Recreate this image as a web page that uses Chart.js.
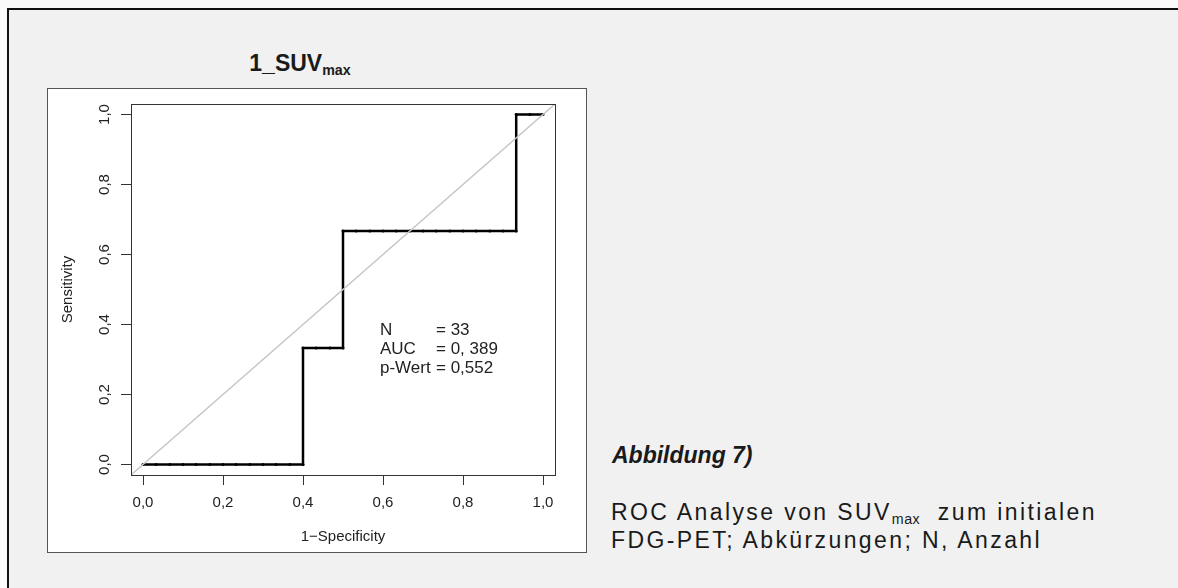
<!DOCTYPE html>
<html>
<head>
<meta charset="utf-8">
<script src="https://cdn.jsdelivr.net/npm/chart.js@4.4.1/dist/chart.umd.min.js"></script>
<style>
    html, body { margin: 0; padding: 0; width: 1178px; height: 588px; overflow: hidden; background: #fafafa; }
    body { position: relative; font-family: 'Liberation Sans', Arial, sans-serif; color: #1a1a1a; }
    #frame { position: absolute; left: 7px; top: 8px; width: 1200px; height: 600px; background: #f1f1f1; border-left: 2px solid #111; border-top: 2px solid #111; }
    #plot-title { position: absolute; left: 200px; width: 200px; top: 50px; text-align: center; font-weight: bold; font-size: 23px; white-space: nowrap; }
    #plot-title sub, #caption sub { font-size: 0.62em; vertical-align: -0.25em; line-height: 0; }
    #plot-box { position: absolute; left: 47px; top: 88px; width: 538px; height: 463px; background: #fff; border: 1px solid #555; }
    #plot-box canvas { position: absolute; left: 0; top: 0; }
    .note { position: absolute; font-size: 17px; line-height: 19px; white-space: nowrap; color: #222; }
    #caption-head { position: absolute; left: 612px; top: 442px; font-size: 23px; font-weight: bold; font-style: italic; white-space: nowrap; }
    #caption { position: absolute; left: 611px; top: 498px; font-size: 23px; line-height: 28px; letter-spacing: 2.4px; white-space: nowrap; }
    #caption sub { letter-spacing: 0.5px; }
</style>
</head>
<body>
<div id="frame"></div>
<div id="plot-title">1_SUV<sub>max</sub></div>
<div id="plot-box"><canvas id="roc" width="538" height="463"></canvas></div>
<div class="note" style="left:380px; top:320px;">N<br>AUC<br>p-Wert</div>
<div class="note" style="left:436px; top:320px;">= 33<br>= 0, 389<br>= 0,552</div>
<div id="caption-head">Abbildung 7)</div>
<div id="caption">ROC Analyse von SUV<sub>max</sub>&nbsp; zum initialen<br>FDG-PET; Abkürzungen; N, Anzahl</div>

<script>
// ROC points: 30 negatives, 3 positives
const falsePosRate = [0, 0.033, 0.067, 0.1, 0.133, 0.167, 0.2, 0.233, 0.267, 0.3, 0.333, 0.367, 0.4,
    0.4, 0.433, 0.467, 0.5,
    0.5, 0.533, 0.567, 0.6, 0.633, 0.667, 0.7, 0.733, 0.767, 0.8, 0.833, 0.867, 0.9, 0.933,
    0.933, 0.967, 1.0];
const truePosRate = [0, 0, 0, 0, 0, 0, 0, 0, 0, 0, 0, 0, 0,
    0.333, 0.333, 0.333, 0.333,
    0.667, 0.667, 0.667, 0.667, 0.667, 0.667, 0.667, 0.667, 0.667, 0.667, 0.667, 0.667, 0.667, 0.667,
    1.0, 1.0, 1.0];
const chanceLine = [-0.05, 1.05];

const tickValues = [0, 0.2, 0.4, 0.6, 0.8, 1.0];
const tickLabels = ['0,0', '0,2', '0,4', '0,6', '0,8', '1,0'];

const axisFont = { family: "'Liberation Sans', Arial, sans-serif", size: 15 };

const boxPlugin = {
    id: 'box',
    afterDraw(chart) {
        const { ctx, chartArea: a } = chart;
        ctx.save();
        ctx.strokeStyle = '#333';
        ctx.lineWidth = 1;
        ctx.strokeRect(Math.round(a.left) + 0.5, Math.round(a.top) + 0.5, Math.round(a.right - a.left), Math.round(a.bottom - a.top));
        ctx.restore();
    }
};

function setTicks(scale) {
    scale.ticks = tickValues.map(v => ({ value: v }));
}

new Chart(document.getElementById('roc'), {
    type: 'scatter',
    data: {
        datasets: [
            {
                label: 'chance',
                data: chanceLine.map(v => ({ x: v, y: v })),
                showLine: true,
                borderColor: '#c8c8c8',
                borderWidth: 1.5,
                pointRadius: 0
            },
            {
                label: 'ROC',
                data: falsePosRate.map((v, i) => ({ x: v, y: truePosRate[i] })),
                showLine: true,
                borderColor: '#000',
                borderWidth: 2.5,
                pointRadius: 1.5,
                pointBackgroundColor: '#000',
                pointBorderWidth: 0
            }
        ]
    },
    options: {
        responsive: false,
        animation: false,
        events: [],
        layout: { padding: { left: 0, top: 13, right: 31, bottom: 0 } },
        plugins: { legend: { display: false }, tooltip: { enabled: false } },
        scales: {
            x: {
                type: 'linear',
                min: -0.03,
                max: 1.03,
                afterBuildTicks: setTicks,
                afterFit: s => { s.height = 77; },
                grid: { drawOnChartArea: false, tickLength: 10, color: '#333' },
                border: { display: false },
                ticks: {
                    font: axisFont, color: '#222', padding: 9, autoSkip: false,
                    maxRotation: 0,
                    callback: (v, i) => tickLabels[i]
                },
                title: { display: true, text: '1\u2212Specificity', font: axisFont, color: '#222', padding: { top: 0, bottom: 6 } }
            },
            y: {
                type: 'linear',
                min: -0.03,
                max: 1.03,
                afterBuildTicks: setTicks,
                afterFit: s => { s.width = 83; },
                grid: { drawOnChartArea: false, tickLength: 10, color: '#333' },
                border: { display: false },
                ticks: {
                    font: axisFont, color: '#222', padding: 6, autoSkip: false,
                    minRotation: 90, maxRotation: 90, crossAlign: 'center',
                    callback: (v, i) => tickLabels[i]
                },
                title: { display: true, text: 'Sensitivity', font: axisFont, color: '#222', padding: { top: 11, bottom: 0 } }
            }
        }
    },
    plugins: [boxPlugin]
});
</script>
</body>
</html>
